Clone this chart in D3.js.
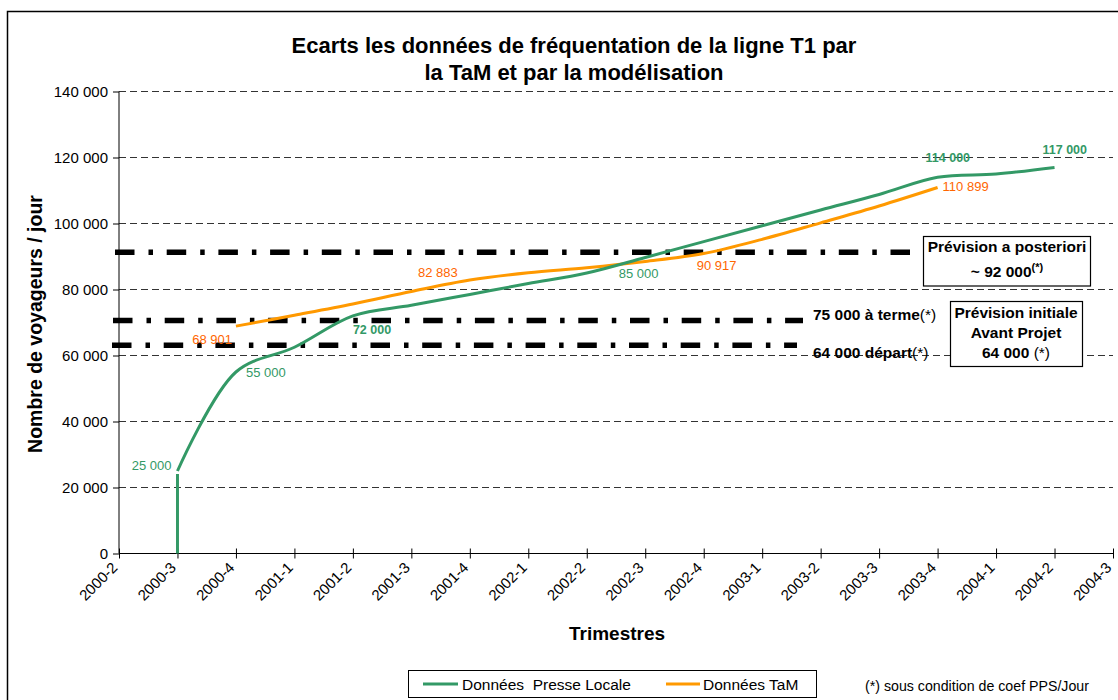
<!DOCTYPE html>
<html><head><meta charset="utf-8">
<script src="https://cdn.jsdelivr.net/npm/d3@7/dist/d3.min.js"></script>
<style>
html,body{margin:0;padding:0;background:#fff;}
svg{display:block;font-family:"Liberation Sans",Arial,sans-serif;}
</style></head>
<body>
<svg id="chart" width="1118" height="700"></svg>
<script>
// ---------- DATA ----------
const quarters = ["2000-2","2000-3","2000-4","2001-1","2001-2","2001-3","2001-4","2002-1","2002-2",
  "2002-3","2002-4","2003-1","2003-2","2003-3","2003-4","2004-1","2004-2","2004-3"];
// Données Presse Locale
const presseLocale = [null,25000,55000,62500,72000,75200,78500,81800,85000,
  89700,94500,99300,104100,108800,114000,115000,117000,null];
// Données TaM
const donneesTaM = [null,null,68901,72200,75600,79400,82883,85100,86600,
  88500,90917,95200,100200,105300,110899,null,null,null];
const yTicks = [0,20000,40000,60000,80000,100000,120000,140000];
const presseLabelQuarters = ["2000-3","2000-4","2001-2","2002-2","2003-4","2004-2"];
const tamLabelQuarters = ["2000-4","2001-4","2002-4","2003-4"];
// Reference (forecast) lines as drawn
const refValues = [91300, 70600, 63100];
const refNames = ["posteriori","terme","depart"];

// ---------- LAYOUT ----------
const W = 1118, H = 700;
const plot = {left:119, right:1113, top:91.5, bottom:553.5};
const svg = d3.select("#chart");
const GREEN = "#339966", ORANGE = "#FF9900", ORANGE_TXT = "#FF6600";
const fr = d3.formatLocale({thousands:" ", grouping:[3], decimal:",", currency:["",""]});
const fmt = fr.format(",d");

const x = d3.scalePoint().domain(quarters).range([plot.left, plot.right]);
const y = d3.scaleLinear().domain([0,140000]).range([plot.bottom, plot.top]);

// outer frame
svg.append("rect").attr("x",7.5).attr("y",11.5).attr("width",1140).attr("height",720)
  .attr("fill","none").attr("stroke","#000").attr("stroke-width",1.5);

// title
const title = svg.append("text").attr("text-anchor","middle").attr("font-weight","bold")
  .attr("font-size",22).attr("fill","#000");
title.append("tspan").attr("x",574).attr("y",53).text("Ecarts les données de fréquentation de la ligne T1 par");
title.append("tspan").attr("x",574).attr("y",80).text("la TaM et par la modélisation");

// gridlines
svg.append("g").selectAll("line").data(yTicks.filter(d=>d>0)).join("line")
  .attr("x1",plot.left).attr("x2",plot.right)
  .attr("y1",d=>y(d)).attr("y2",d=>y(d))
  .attr("stroke","#333").attr("stroke-width",1).attr("stroke-dasharray","7,4");

// y axis
const yAxis = d3.axisLeft(y).tickValues(yTicks).tickSize(6).tickPadding(5).tickFormat(fmt);
const gy = svg.append("g").attr("transform",`translate(${plot.left},0)`).call(yAxis);
gy.select(".domain").attr("stroke","#000").attr("d",`M0,${plot.top}V${plot.bottom}`);
gy.selectAll(".tick line").attr("stroke","#000");
gy.selectAll(".tick text").attr("font-size",15).attr("font-family","Liberation Sans, Arial, sans-serif").attr("fill","#000");

// x axis
const xAxis = d3.axisBottom(x).tickSize(5).tickPadding(4);
const gx = svg.append("g").attr("transform",`translate(0,${plot.bottom})`).call(xAxis);
gx.select(".domain").attr("stroke","#000").attr("d",`M${plot.left},0H${plot.right}`);
gx.selectAll(".tick line").attr("stroke","#000").attr("y1",-5).attr("y2",5);
gx.selectAll(".tick text").attr("font-size",15).attr("font-family","Liberation Sans, Arial, sans-serif")
  .attr("fill","#000").attr("text-anchor","end")
  .attr("y",0).attr("dy",0)
  .attr("transform","translate(-1,15) rotate(-45)");

// axis titles
svg.append("text").attr("transform",`translate(42,324) rotate(-90)`).attr("text-anchor","middle")
  .attr("font-weight","bold").attr("font-size",19.5).text("Nombre de voyageurs / jour");
svg.append("text").attr("x",617).attr("y",640).attr("text-anchor","middle")
  .attr("font-weight","bold").attr("font-size",19).text("Trimestres");

// reference dash-dot lines
const refExtent = {posteriori:[115,1000], terme:[113,803], depart:[112,797]};
svg.append("g").selectAll("line").data(refValues).join("line")
  .attr("x1",(d,i)=>refExtent[refNames[i]][0]).attr("x2",(d,i)=>refExtent[refNames[i]][1])
  .attr("y1",d=>y(d)).attr("y2",d=>y(d))
  .attr("stroke","#000").attr("stroke-width",5.5).attr("stroke-dasharray","19.5,14,4.5,13.7");

// series lines
const line = d3.line().defined(d=>d[1]!==null).x(d=>x(d[0])).y(d=>y(d[1]))
  .curve(d3.curveCatmullRom.alpha(0.5));
svg.append("path").datum(quarters.map((q,i)=>[q,donneesTaM[i]]))
  .attr("d",line).attr("fill","none").attr("stroke",ORANGE).attr("stroke-width",3);
svg.append("path").datum(quarters.map((q,i)=>[q,presseLocale[i]]))
  .attr("d",line).attr("fill","none").attr("stroke",GREEN).attr("stroke-width",3);
// initial vertical rise of the green series
const q0 = presseLabelQuarters[0];
svg.append("line").attr("x1",x(q0)).attr("x2",x(q0)).attr("y1",y(0))
  .attr("y2",y(presseLocale[quarters.indexOf(q0)])+3).attr("stroke",GREEN).attr("stroke-width",3);

// data labels
const presseOff = {"2000-3":[-6,-6,"end",false],"2000-4":[10,0,"start",false],"2001-2":[0,14,"start",true],
  "2002-2":[32,0,"start",false],"2003-4":[-12,-20,"start",true],"2004-2":[-12,-18,"start",true]};
const tamOff = {"2000-4":[-4,13,"end"],"2001-4":[-12,-8,"end"],"2002-4":[-7,12,"start"],"2003-4":[5,-1,"start"]};
svg.append("g").selectAll("text").data(presseLabelQuarters).join("text")
  .attr("x",q=>x(q)+presseOff[q][0]).attr("y",q=>y(presseLocale[quarters.indexOf(q)])+presseOff[q][1])
  .attr("dy","0.35em").attr("text-anchor",q=>presseOff[q][2])
  .attr("font-weight",q=>presseOff[q][3]?"bold":"normal")
  .attr("font-size",q=>presseOff[q][3]?12.5:13).attr("fill",GREEN)
  .text(q=>fmt(presseLocale[quarters.indexOf(q)]));
svg.append("g").selectAll("text").data(tamLabelQuarters).join("text")
  .attr("x",q=>x(q)+tamOff[q][0]).attr("y",q=>y(donneesTaM[quarters.indexOf(q)])+tamOff[q][1])
  .attr("dy","0.35em").attr("text-anchor",q=>tamOff[q][2])
  .attr("font-size",13).attr("fill",ORANGE_TXT)
  .text(q=>fmt(donneesTaM[quarters.indexOf(q)]));

// annotation boxes
svg.append("rect").attr("x",923.5).attr("y",236.5).attr("width",167).attr("height",49.5)
  .attr("fill","#fff").attr("stroke","#000").attr("stroke-width",1.2);
svg.append("text").attr("x",1007).attr("y",252).attr("text-anchor","middle").attr("font-weight","bold")
  .attr("font-size",15.5).text("Prévision a posteriori");
const t2 = svg.append("text").attr("x",1007).attr("y",277).attr("text-anchor","middle").attr("font-weight","bold")
  .attr("font-size",15.5);
t2.append("tspan").text("~ 92 000");
t2.append("tspan").attr("font-size",11).attr("dy",-6).text("(*)");

svg.append("rect").attr("x",950.5).attr("y",301.5).attr("width",132).attr("height",65)
  .attr("fill","#fff").attr("stroke","#000").attr("stroke-width",1.2);
svg.append("text").attr("x",1016).attr("y",318).attr("text-anchor","middle").attr("font-weight","bold")
  .attr("font-size",15.5).text("Prévision initiale");
svg.append("text").attr("x",1016).attr("y",338).attr("text-anchor","middle").attr("font-weight","bold")
  .attr("font-size",15.5).text("Avant Projet");
const t3 = svg.append("text").attr("x",1016).attr("y",358).attr("text-anchor","middle").attr("font-size",15.5);
t3.append("tspan").attr("font-weight","bold").text("64 000 ");
t3.append("tspan").text("(*)");

const t4 = svg.append("text").attr("x",813).attr("y",319.5).attr("font-size",15.5);
t4.append("tspan").attr("font-weight","bold").text("75 000 à terme");
t4.append("tspan").text("(*)");
const t5 = svg.append("text").attr("x",813).attr("y",358).attr("font-size",15.5);
t5.append("tspan").attr("font-weight","bold").text("64 000 départ");
t5.append("tspan").text("(*)");

// legend
svg.append("rect").attr("x",408.5).attr("y",670.5).attr("width",408).attr("height",27)
  .attr("fill","#fff").attr("stroke","#000").attr("stroke-width",1);
svg.append("line").attr("x1",423).attr("x2",458).attr("y1",684).attr("y2",684).attr("stroke",GREEN).attr("stroke-width",3);
svg.append("text").attr("x",462).attr("y",690).attr("font-size",15.5).attr("xml:space","preserve").text("Données  Presse Locale");
svg.append("line").attr("x1",666).attr("x2",700).attr("y1",684).attr("y2",684).attr("stroke",ORANGE).attr("stroke-width",3);
svg.append("text").attr("x",703).attr("y",690).attr("font-size",15.5).text("Données TaM");

svg.append("text").attr("x",865).attr("y",691).attr("font-size",14.2).text("(*) sous condition de coef PPS/Jour");
</script>
</body></html>
